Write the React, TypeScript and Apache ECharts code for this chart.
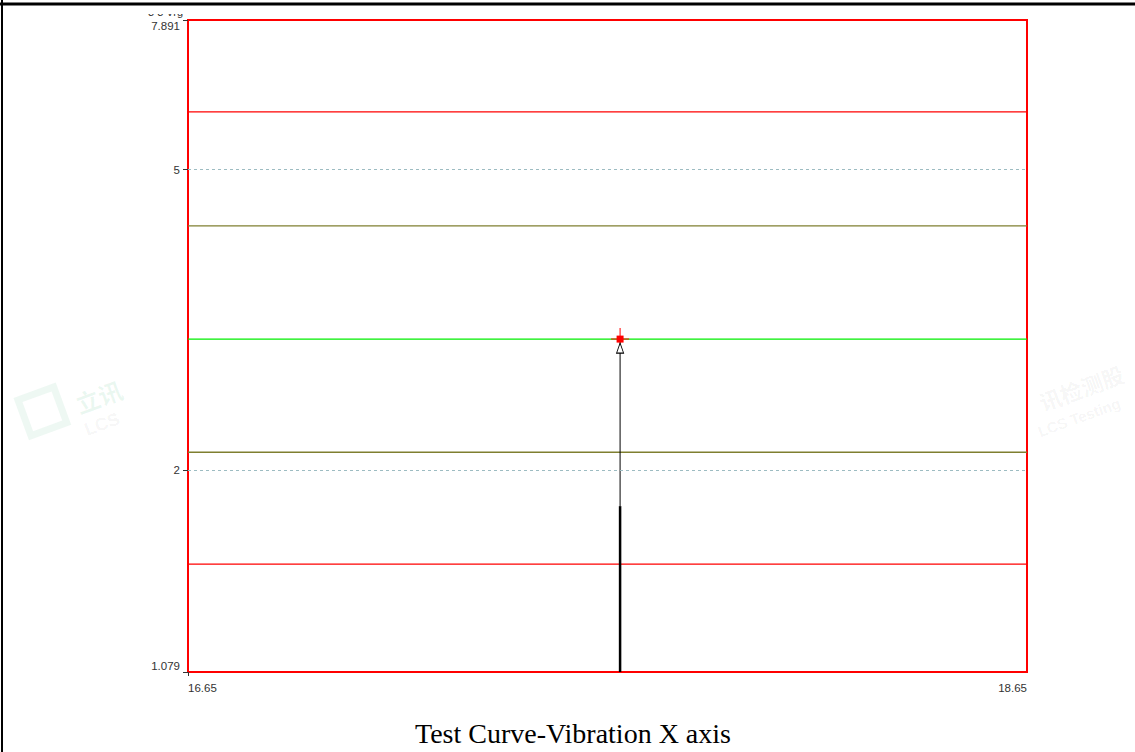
import React, { useEffect, useRef } from "react";
import * as echarts from "echarts";

// ---- data ----
const xMin = 16.65;
const xMax = 18.65;
const yMin = 1.079;
const yMax = 7.891;
const xTickValues = [16.65, 18.65];
const yTickValues = [1.079, 2, 5, 7.891];
const gridLineValues = [2, 5];
// tolerance lines: upper abort, upper alarm, reference, lower alarm, lower abort
const limitNames = ["Upper abort", "Upper alarm", "Reference", "Lower alarm", "Lower abort"];
const limitValues = [5.96, 4.21, 2.98, 2.11, 1.5];
// measured response (spike)
const responseCurve: [number, number][] = [
  [17.68, 1.079],
  [17.68, 1.79],
];
// cursor line and control point
const cursorLine: [number, number][] = [
  [17.68, 1.79],
  [17.68, 2.98],
];
const cursorPoint: [number, number][] = [[17.68, 2.98]];
const titleText = "Test Curve-Vibration X axis";

const limitColors = ["#ff0000", "#7f7f30", "#00ee00", "#7f7f30", "#ff0000"];

function fmtY(v: number) {
  const m = yTickValues.find((t) => Math.abs(t - v) < 1e-6);
  return m != null ? String(m) : v.toFixed(3);
}
function fmtX(v: number) {
  const m = xTickValues.find((t) => Math.abs(t - v) < 1e-6);
  return m != null ? m.toFixed(2) : v.toFixed(2);
}

export default function App() {
  const ref = useRef<HTMLDivElement>(null);
  useEffect(() => {
    if (!ref.current) return;
    const chart = echarts.init(ref.current, undefined, { renderer: "svg" });
    const labelFont = { fontFamily: "Liberation Sans", fontSize: 11.5, color: "#333" };
    const option: any = {
      animation: false,
      backgroundColor: "#fff",
      title: {
        text: titleText,
        left: 415,
        top: 719,
        padding: 0,
        textStyle: {
          fontFamily: "Liberation Serif",
          fontSize: 28,
          fontWeight: "normal",
          color: "#000",
        },
      },
      grid: {
        left: 188,
        right: 108,
        top: 20,
        bottom: 80,
        show: true,
        borderColor: "#ff0000",
        borderWidth: 2,
        backgroundColor: "transparent",
      },
      xAxis: {
        type: "value",
        min: xMin,
        max: xMax,
        axisLine: { show: true, lineStyle: { color: "#ff0000", width: 2 } },
        axisTick: {
          show: true,
          customValues: [xMin],
          length: 4,
          lineStyle: { color: "#333", width: 1 },
        },
        axisLabel: {
          ...labelFont,
          customValues: xTickValues,
          margin: 10,
          alignMinLabel: "left",
          alignMaxLabel: "right",
          formatter: (v: number) => fmtX(v),
        },
        splitLine: { show: false },
      },
      yAxis: {
        type: "log",
        logBase: 10,
        min: yMin,
        max: yMax,
        axisLine: { show: true, lineStyle: { color: "#ff0000", width: 2 } },
        axisTick: {
          show: true,
          customValues: yTickValues,
          length: 5,
          lineStyle: { color: "#333", width: 1 },
        },
        axisLabel: {
          ...labelFont,
          customValues: yTickValues,
          margin: 8,
          verticalAlignMinLabel: "bottom",
          verticalAlignMaxLabel: "top",
          formatter: (v: number) => fmtY(v),
        },
        splitLine: { show: false },
        minorTick: { show: false },
      },
      series: [
        {
          name: "Grid",
          type: "line",
          data: [],
          silent: true,
          markLine: {
            silent: true,
            symbol: "none",
            label: { show: false },
            lineStyle: { color: "#9dbcc2", width: 1, type: [3, 3] },
            data: gridLineValues.map((v) => ({ yAxis: v })),
          },
          z: 1,
        },
        ...limitValues.map((v, i) => ({
          name: limitNames[i],
          type: "line",
          data: [
            [xMin, v],
            [xMax, v],
          ],
          symbol: "none",
          silent: true,
          lineStyle: { color: limitColors[i], width: 1.3 },
          itemStyle: { color: limitColors[i] },
          z: 2,
        })),
        {
          name: "Response",
          type: "line",
          data: responseCurve,
          symbol: "none",
          lineStyle: { color: "#000", width: 2.5 },
          z: 3,
        },
        {
          name: "Cursor",
          type: "line",
          data: cursorLine,
          symbol: "none",
          lineStyle: { color: "#000", width: 1 },
          z: 3,
        },
        {
          name: "Cursor arrow",
          type: "scatter",
          data: cursorPoint,
          symbol: "triangle",
          symbolSize: [7, 10],
          symbolOffset: [0, 9],
          itemStyle: { color: "#fff", borderColor: "#000", borderWidth: 1, opacity: 1 },
          z: 4,
        },
        {
          name: "Cursor cross",
          type: "scatter",
          data: cursorPoint,
          symbol:
            "path://M0,10.5 L18,10.5 L18,11.5 L0,11.5 Z M8.5,0 L9.5,0 L9.5,11 L8.5,11 Z M9,21.9 L9.05,22 L8.95,22 Z",
          symbolSize: [18, 22],
          symbolKeepAspect: false,
          itemStyle: { color: "#ff0000", opacity: 1 },
          z: 5,
        },
        {
          name: "Cursor point",
          type: "scatter",
          data: cursorPoint,
          symbol: "rect",
          symbolSize: 7,
          itemStyle: { color: "#ff0000", opacity: 1 },
          z: 6,
        },
      ],
      graphic: [
        // clipped unit text at top-left
        {
          type: "text",
          left: 148,
          top: 6,
          z: 1,
          style: { text: "3 3 Vrg", fontFamily: "Liberation Sans", fontSize: 11, fill: "#333" },
        },
        { type: "rect", shape: { x: 0, y: 0, width: 1135, height: 14 }, style: { fill: "#fff" }, z: 2 },
        // page frame
        { type: "line", shape: { x1: 0, y1: 4, x2: 1135, y2: 4 }, style: { stroke: "#000", lineWidth: 3 }, z: 10 },
        { type: "line", shape: { x1: 2, y1: 0, x2: 2, y2: 752 }, style: { stroke: "#000", lineWidth: 2 }, z: 10 },
        // faint watermarks
        {
          type: "rect",
          x: 18,
          y: 400,
          rotation: 0.35,
          z: 0,
          shape: { x: 0, y: 0, width: 38, height: 38 },
          style: { fill: "none", stroke: "rgba(40,170,100,0.08)", lineWidth: 7 },
        },
        {
          type: "text",
          x: 72,
          y: 393,
          rotation: 0.35,
          z: 0,
          style: { text: "立讯", fontFamily: "Noto Sans CJK SC", fontSize: 24, fontWeight: "bold", fill: "rgba(40,170,100,0.09)" },
        },
        {
          type: "text",
          x: 82,
          y: 422,
          rotation: 0.35,
          z: 0,
          style: { text: "LCS", fontFamily: "Liberation Sans", fontSize: 18, fontWeight: "bold", fill: "rgba(0,0,0,0.05)" },
        },
        {
          type: "text",
          x: 1036,
          y: 392,
          rotation: 0.35,
          z: 0,
          style: { text: "讯检测股", fontFamily: "Noto Sans CJK SC", fontSize: 22, fontWeight: "bold", fill: "rgba(0,0,0,0.05)" },
        },
        {
          type: "text",
          x: 1036,
          y: 425,
          rotation: 0.35,
          z: 0,
          style: { text: "LCS Testing", fontFamily: "Liberation Sans", fontSize: 15, fontWeight: "bold", fill: "rgba(0,0,0,0.05)" },
        },
      ],
    };
    chart.setOption(option);
    return () => chart.dispose();
  }, []);
  return (
    <div
      ref={ref}
      style={{ position: "absolute", left: 0, top: 0, width: 1135, height: 752 }}
    />
  );
}
